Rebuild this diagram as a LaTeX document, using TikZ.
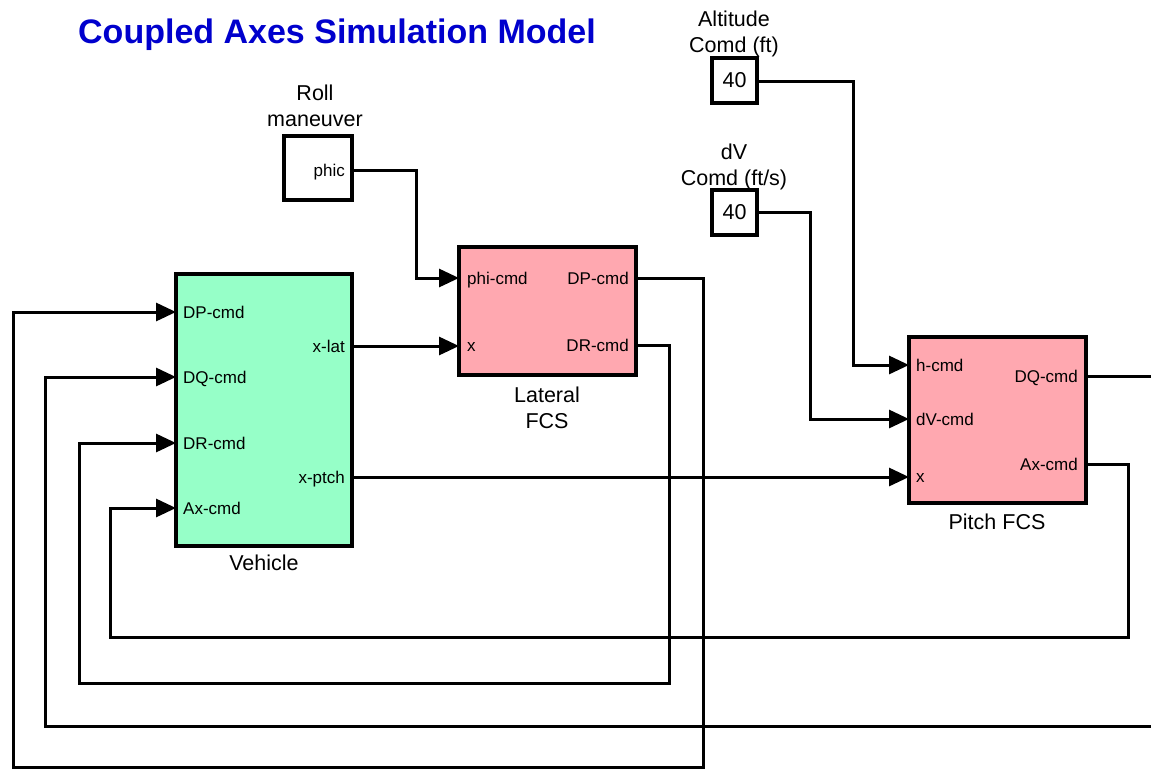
\documentclass[tikz,border=0pt]{standalone}
\usepackage{fontspec}
\setmainfont{Liberation Sans}
\usetikzlibrary{arrows.meta}
\definecolor{vehgreen}{RGB}{150,255,200}
\definecolor{fcspink}{RGB}{255,168,176}
\definecolor{titleblue}{RGB}{0,0,205}
\begin{document}
\begin{tikzpicture}[x=1pt,y=-1pt,
  block/.style={draw=black, line width=3.2pt, inner sep=0pt},
  wire/.style={line width=3pt},
  sig/.style={line width=3pt, -{Triangle[length=20pt,width=18pt]}},
  port/.style={font=\fontsize{17}{17}\selectfont, inner sep=0pt, text height=12pt, text depth=0pt},
  lbl/.style={font=\fontsize{21.5}{26}\selectfont, align=center, inner sep=0pt},
  const/.style={font=\fontsize{21.5}{21.5}\selectfont}]
\useasboundingbox (0,0) rectangle (1151,769);
\fill[white] (0,0) rectangle (1151,769);

% title
\node[font=\fontsize{34}{34}\selectfont\bfseries, text=titleblue] (title) at (337,35) {Coupled Axes Simulation Model};

% blocks
\node[block, fill=vehgreen, minimum width=176pt, minimum height=272pt] (veh) at (264,410) {};
\node[block, fill=fcspink, minimum width=177pt, minimum height=128pt] (lat) at (547.5,311) {};
\node[block, fill=fcspink, minimum width=177pt, minimum height=166pt] (pit) at (997.5,420) {};
\node[block, fill=white, minimum width=68pt, minimum height=64pt] (roll) at (318,168) {};
\node[block, fill=white, minimum width=45pt, minimum height=45pt, const] (alt) at (734.5,80.5) {40};
\node[block, fill=white, minimum width=45pt, minimum height=45pt, const] (dv) at (734.5,212.5) {40};

% block labels
\node[lbl] (rolllbl) at (315,106) {Roll\\maneuver};
\node[lbl] (altlbl) at (734,34) {Altitude\\Comd (ft)};
\node[lbl] (dvlbl) at (734,167) {dV\\Comd (ft/s)};
\node[lbl] (latlbl) at (547,408) {Lateral\\FCS};
\node[lbl] (vehlbl) at (264,563) {Vehicle};
\node[lbl] (pitlbl) at (997,522) {Pitch FCS};

% port labels
\node[port, anchor=east] (rollp) at (345,170) {phic};
\node[port, anchor=west] (vdp) at (183,312) {DP-cmd};
\node[port, anchor=west] (vdq) at (183,377) {DQ-cmd};
\node[port, anchor=west] (vdr) at (183,443) {DR-cmd};
\node[port, anchor=west] (vax) at (183,508) {Ax-cmd};
\node[port, anchor=east] (vxl) at (345,346) {x-lat};
\node[port, anchor=east] (vxp) at (345,477) {x-ptch};
\node[port, anchor=west] (lphi) at (467,278) {phi-cmd};
\node[port, anchor=west] (lx) at (467,345) {x};
\node[port, anchor=east] (ldp) at (629,278) {DP-cmd};
\node[port, anchor=east] (ldr) at (629,345) {DR-cmd};
\node[port, anchor=west] (ph) at (916,365) {h-cmd};
\node[port, anchor=west] (pdv) at (916,419) {dV-cmd};
\node[port, anchor=west] (px) at (916,476) {x};
\node[port, anchor=east] (pdq) at (1078,376) {DQ-cmd};
\node[port, anchor=east] (pax) at (1078,464) {Ax-cmd};

% port coordinates
\coordinate (roll-o) at (352,170);
\coordinate (alt-o) at (757,81);
\coordinate (dv-o) at (757,212);
\coordinate (lat-i1) at (459,278);
\coordinate (lat-i2) at (459,346);
\coordinate (lat-o1) at (636,278);
\coordinate (lat-o2) at (636,345);
\coordinate (veh-i1) at (176,312);
\coordinate (veh-i2) at (176,377);
\coordinate (veh-i3) at (176,443);
\coordinate (veh-i4) at (176,508);
\coordinate (veh-o1) at (352,346);
\coordinate (veh-o2) at (352,477);
\coordinate (pit-i1) at (909,365);
\coordinate (pit-i2) at (909,419);
\coordinate (pit-i3) at (909,477);
\coordinate (pit-o1) at (1086,376);
\coordinate (pit-o2) at (1086,464);
\coordinate (edge-out) at (1151,376);
\coordinate (edge-in) at (1151,726);

% connectors
\draw[sig] (roll-o) -- (416,170) -- (416,278) -- (lat-i1);
\draw[sig] (veh-o1) -- (lat-i2);
\draw[sig] (veh-o2) -- (pit-i3);
\draw[sig] (alt-o) -- (853,81) -- (853,365) -- (pit-i1);
\draw[sig] (dv-o) -- (810,212) -- (810,419) -- (pit-i2);
\draw[wire] (pit-o1) -- (edge-out);
\draw[sig] (edge-in) -- (45,726) -- (45,377) -- (veh-i2);
\draw[sig] (pit-o2) -- (1128,464) -- (1128,637) -- (110,637) -- (110,508) -- (veh-i4);
\draw[sig] (lat-o2) -- (669,345) -- (669,683) -- (79,683) -- (79,443) -- (veh-i3);
\draw[sig] (lat-o1) -- (703,278) -- (703,767.5) -- (13,767.5) -- (13,312) -- (veh-i1);
\end{tikzpicture}
\end{document}
